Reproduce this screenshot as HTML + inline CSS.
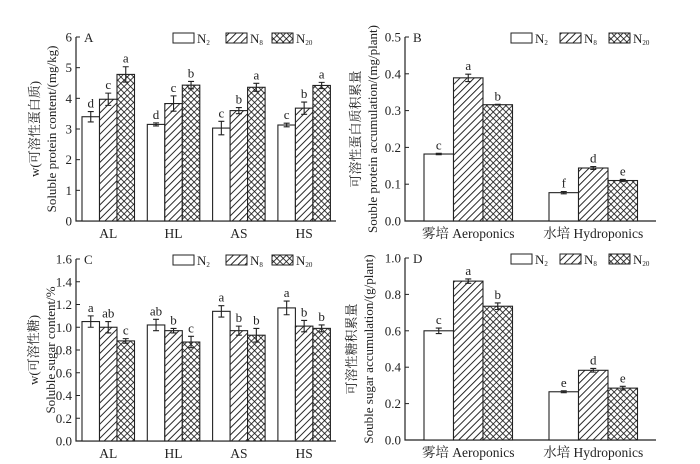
<!DOCTYPE html>
<html><head><meta charset="utf-8"><style>
html,body{margin:0;padding:0;background:#fff;}
svg{display:block;font-family:"Liberation Serif","Noto Serif CJK SC",serif;}
</style></head><body>
<svg id="fig" width="700" height="464" viewBox="0 0 700 464" xmlns="http://www.w3.org/2000/svg">
<defs>
<pattern id="hatch" patternUnits="userSpaceOnUse" width="5" height="5" patternTransform="rotate(45)">
<rect width="5" height="5" fill="#fff"/><line x1="0" y1="0" x2="0" y2="5" stroke="#111" stroke-width="1.8"/></pattern>
<pattern id="cross" patternUnits="userSpaceOnUse" width="4.5" height="4.5" patternTransform="rotate(45)">
<rect width="4.5" height="4.5" fill="#fff"/><line x1="0" y1="0" x2="0" y2="4.5" stroke="#111" stroke-width="1.6"/><line x1="0" y1="0" x2="4.5" y2="0" stroke="#111" stroke-width="1.6"/></pattern>
</defs>
</svg>
<script>
// Panel A data
const catsA = ['AL','HL','AS','HS'];
const valsA_N2 = [3.40,3.15,3.03,3.13];
const valsA_N8 = [3.97,3.83,3.60,3.68];
const valsA_N20 = [4.78,4.43,4.36,4.42];
const errA_N2 = [0.17,0.05,0.22,0.06];
const errA_N8 = [0.20,0.25,0.10,0.20];
const errA_N20 = [0.25,0.12,0.13,0.10];
const letA_N2 = ['d','d','c','c'];
const letA_N8 = ['c','c','b','b'];
const letA_N20 = ['a','b','a','a'];
const ticksA = ['0','1','2','3','4','5','6'];
// Panel B data
const catsB = ['雾培  Aeroponics','水培  Hydroponics'];
const valsB_N2 = [0.182,0.077];
const valsB_N8 = [0.389,0.144];
const valsB_N20 = [0.316,0.110];
const errB_N2 = [0.002,0.003];
const errB_N8 = [0.010,0.004];
const errB_N20 = [0.001,0.003];
const letB_N2 = ['c','f'];
const letB_N8 = ['a','d'];
const letB_N20 = ['b','e'];
const ticksB = ['0.0','0.1','0.2','0.3','0.4','0.5'];
// Panel C data
const catsC = ['AL','HL','AS','HS'];
const valsC_N2 = [1.05,1.02,1.14,1.17];
const valsC_N8 = [1.00,0.97,0.97,1.01];
const valsC_N20 = [0.88,0.87,0.93,0.99];
const errC_N2 = [0.05,0.05,0.05,0.06];
const errC_N8 = [0.05,0.02,0.04,0.05];
const errC_N20 = [0.02,0.05,0.06,0.03];
const letC_N2 = ['a','ab','a','a'];
const letC_N8 = ['ab','b','b','b'];
const letC_N20 = ['c','c','b','b'];
const ticksC = ['0.0','0.2','0.4','0.6','0.8','1.0','1.2','1.4','1.6'];
// Panel D data
const catsD = ['雾培  Aeroponics','水培  Hydroponics'];
const valsD_N2 = [0.600,0.265];
const valsD_N8 = [0.873,0.383];
const valsD_N20 = [0.735,0.285];
const errD_N2 = [0.015,0.005];
const errD_N8 = [0.012,0.010];
const errD_N20 = [0.018,0.010];
const letD_N2 = ['c','e'];
const letD_N8 = ['a','d'];
const letD_N20 = ['b','e'];
const ticksD = ['0.0','0.2','0.4','0.6','0.8','1.0'];

const NS='http://www.w3.org/2000/svg';
const svg=document.getElementById('fig');
function mk(tag,attrs,parent,text){const e=document.createElementNS(NS,tag);for(const k in attrs)e.setAttribute(k,attrs[k]);if(text!==undefined)e.textContent=text;(parent||svg).appendChild(e);return e;}

function panel(o){
  const g=mk('g',{});
  
  
  const ymax=parseFloat(o.ticks[o.ticks.length-1]);
  const y=v=>o.y0-(v/ymax)*(o.y0-o.y1);
  const ax=mk('path',{d:`M${o.x0} ${o.y1}V${o.y0}H${o.x2}`,fill:'none',stroke:'#222','stroke-width':1.2},g);
  
  
  o.ticks.forEach(t=>{const v=parseFloat(t),yy=y(v);
    mk('line',{x1:o.x0,x2:o.x0+4,y1:yy,y2:yy,stroke:'#222','stroke-width':1},g);
    const tl=mk('text',{x:o.x0-4,y:yy+4.5,'text-anchor':'end','font-size':13,fill:'#222'},g,t);
    
    
  });
  const pl=mk('text',{x:o.x0+8,y:o.y1+5,'font-size':13,fill:'#222'},g,o.letter);
  
  
  o.titles.forEach((tt,i)=>{
    const t=mk('text',{transform:`translate(${tt[0]},${(o.y0+o.y1)/2}) rotate(-90)`,'text-anchor':'middle','font-size':13,fill:'#222'},g,tt[1]);
    
    
  });
  const series=[[o.v[0],o.e[0],o.l[0],'#fff'],[o.v[1],o.e[1],o.l[1],'url(#hatch)'],[o.v[2],o.e[2],o.l[2],'url(#cross)']];
  o.cats.forEach((c,i)=>{
    const gx=o.gstart+i*o.gstep;
    series.forEach((s,j)=>{
      const bx=gx+j*o.bw, top=y(s[0][i]);
      const r=mk('rect',{x:bx,y:top,width:o.bw,height:o.y0-top,fill:s[3],stroke:'#222','stroke-width':1.1},g);
      
      
      const cx=bx+o.bw/2, et=y(s[0][i]+s[1][i]), eb=y(s[0][i]-s[1][i]);
      mk('path',{d:`M${cx} ${eb}V${et}M${cx-3} ${et}H${cx+3}M${cx-3} ${eb}H${cx+3}`,stroke:'#222','stroke-width':1.1,fill:'none'},g);
      const lt=mk('text',{x:cx,y:et-4,'text-anchor':'middle','font-size':13,fill:'#222'},g,s[2][i]);
      
      
    });
    const xl=mk('text',{x:gx+1.5*o.bw+(o.xoff||0),y:o.y0+17,'text-anchor':'middle','font-size':13.5,fill:'#222','xml:space':'preserve'},g,c);
    
    
  });
  const lg=mk('g',{},g);
  
  
  const fills=['#fff','url(#hatch)','url(#cross)'],subs=['2','8','20'];
  o.leg.forEach((lx,j)=>{
    mk('rect',{x:lx,y:o.y1-4,width:21,height:10,fill:fills[j],stroke:'#222','stroke-width':1},lg);
    const t=mk('text',{x:lx+24,y:o.y1+6,'font-size':13,fill:'#222'},lg,'N');
    mk('tspan',{'font-size':7,dy:2},t,subs[j]);
    
    
  });
}
panel({name:'panel-a',letter:'A',x0:76,x2:336,y0:221,y1:37,ticks:ticksA,cats:catsA,v:[valsA_N2,valsA_N8,valsA_N20],e:[errA_N2,errA_N8,errA_N20],l:[letA_N2,letA_N8,letA_N20],gstart:82,gstep:65.3,bw:17.5,leg:[173,226,272],titles:[[39,'w(可溶性蛋白质)'],[56,'Soluble protein content/(mg/kg)']]});
panel({name:'panel-b',letter:'B',x0:405,x2:656,y0:221,y1:37,ticks:ticksB,cats:catsB,v:[valsB_N2,valsB_N8,valsB_N20],e:[errB_N2,errB_N8,errB_N20],l:[letB_N2,letB_N8,letB_N20],gstart:424,gstep:125,bw:29.5,leg:[511,560,609],titles:[[360,'可溶性蛋白质积累量'],[377,'Souble protein accumulation/(mg/plant)']]});
panel({name:'panel-c',letter:'C',x0:76,x2:336,y0:441,y1:259,ticks:ticksC,cats:catsC,v:[valsC_N2,valsC_N8,valsC_N20],e:[errC_N2,errC_N8,errC_N20],l:[letC_N2,letC_N8,letC_N20],gstart:82,gstep:65.3,bw:17.5,leg:[173,226,272],titles:[[38,'w(可溶性糖)'],[55,'Soluble sugar content/%']]});
panel({name:'panel-d',letter:'D',x0:405,x2:656,y0:440,y1:258,ticks:ticksD,cats:catsD,v:[valsD_N2,valsD_N8,valsD_N20],e:[errD_N2,errD_N8,errD_N20],l:[letD_N2,letD_N8,letD_N20],gstart:424,gstep:125,bw:29.5,leg:[511,560,609],titles:[[356,'可溶性糖积累量'],[373,'Souble sugar accumulation/(g/plant)']]});
</script>
</body></html>
